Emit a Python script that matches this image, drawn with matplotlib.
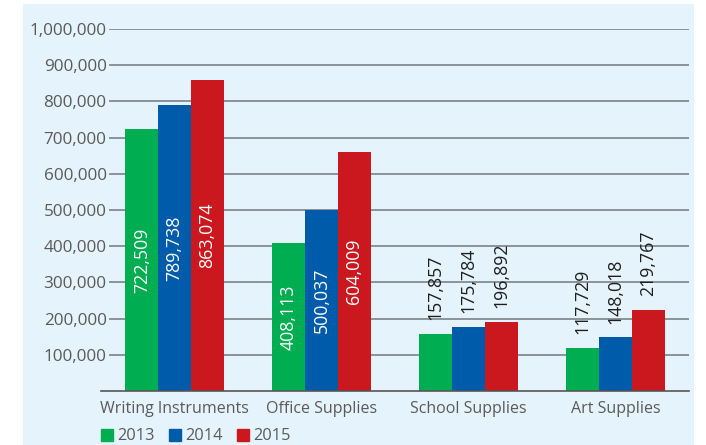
import numpy as np
import matplotlib.pyplot as plt
from matplotlib.patches import Rectangle, Patch

plt.rcParams['font.family'] = ['Open Sans', 'DejaVu Sans']

categories = ["Writing Instruments", "Office Supplies", "School Supplies", "Art Supplies"]
years = ["2013", "2014", "2015"]
# bar heights as drawn in the picture
sales_2013 = [722509, 408113, 157857, 117729]
sales_2014 = [789738, 500037, 175784, 148018]
sales_2015 = [860000, 660000, 191000, 223000]
# value labels as printed on the bars
labels_2013 = ["722,509", "408,113", "157,857", "117,729"]
labels_2014 = ["789,738", "500,037", "175,784", "148,018"]
labels_2015 = ["863,074", "604,009", "196,892", "219,767"]
yticks = [100000, 200000, 300000, 400000, 500000, 600000, 700000, 800000, 900000, 1000000]

colors = ["#00ad50", "#005bab", "#cb171e"]
bg = "#e5f4fc"

fig = plt.figure(figsize=(7.06, 4.45), dpi=100)
fig.patches.append(Rectangle((23/706, 0), 671/706, 441/445, transform=fig.transFigure,
                             facecolor=bg, edgecolor="none", zorder=-10))
ax = fig.add_axes([101/706, 1-391/445, 588/706, 362/445])
ax.set_facecolor("none")

x = np.arange(len(categories))
w = 0.2225
series = [sales_2013, sales_2014, sales_2015]
texts = [labels_2013, labels_2014, labels_2015]
for i, (vals, labs) in enumerate(zip(series, texts)):
    xs = x + (i-1)*w
    ax.bar(xs, vals, width=w, color=colors[i], zorder=3)
    for xi, v, t in zip(xs, vals, labs):
        if v > 300000:
            ax.text(xi, v/2, t, rotation=90, ha="center", va="center",
                    color="white", fontsize=12.8, zorder=4)
        else:
            ax.annotate(t, (xi, v), xytext=(0, 10), textcoords="offset points",
                        rotation=90, ha="center", va="bottom", color="#1e1e1e",
                        fontsize=12.8, zorder=4)

ax.set_xlim(-0.5, 3.5)
ax.set_ylim(0, 1000000)
ax.set_yticks(yticks)
ax.set_yticklabels([f"{v:,}" for v in yticks])
for v in yticks:
    ax.axhline(v, xmin=0.015, xmax=1, color="#8a939a", lw=1.4, zorder=1)
ax.set_xticks(x)
ax.set_xticklabels(categories)
ax.tick_params(axis="both", length=0, labelcolor="#5a5a5a")
ax.tick_params(axis="y", pad=-4, labelsize=12.3)
ax.tick_params(axis="x", pad=7, labelsize=11.5)
for s in ["top", "right", "left"]:
    ax.spines[s].set_visible(False)
ax.spines["bottom"].set_color("#555555")
ax.spines["bottom"].set_linewidth(1.2)
ax.spines["bottom"].set_zorder(5)

handles = [Patch(color=c, label=y) for c, y in zip(colors, years)]
fig.legend(handles=handles, loc="lower left", bbox_to_anchor=(86/706, -14/445), ncol=3,
           frameon=False, fontsize=11.8, handlelength=0.75, handleheight=0.75,
           handletextpad=0.25, columnspacing=0.85, labelcolor="#5a5a5a")

fig.savefig("out.png", dpi=100)
